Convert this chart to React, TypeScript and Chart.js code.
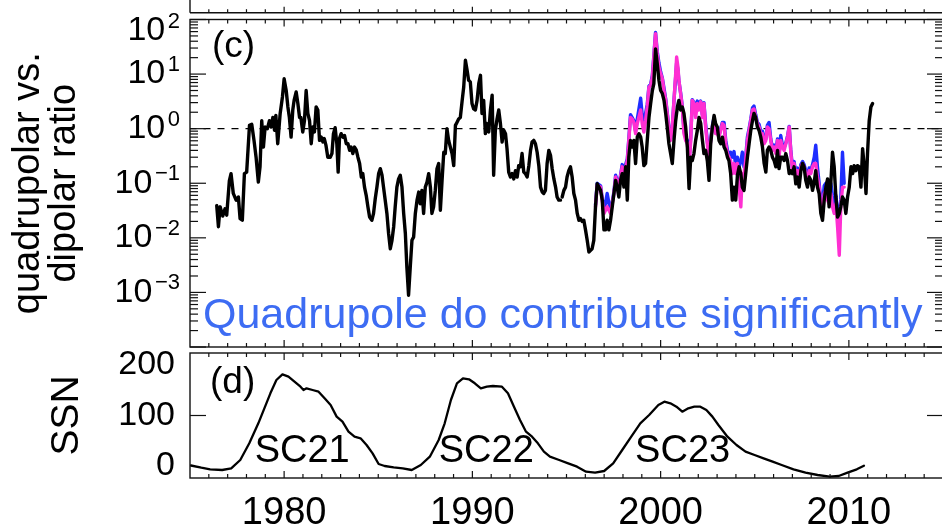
import React, { useEffect, useRef } from "react";
import { Chart, registerables } from "chart.js";

Chart.register(...registerables);

const FONT = "'Liberation Sans', Arial, Helvetica, sans-serif";
const INK = "#111111";
const TEXT_BLUE = "#3d6cf3";

// ---------- data ----------
const xRange = [1975, 2015];
const xTickLabels = [1980, 1990, 2000, 2010];
const ratioExponents = [2, 1, 0, -1, -2, -3];
const ssnTickLabels = [0, 100, 200];
const cycleLabels = ["SC21", "SC22", "SC23"];
const cycleLabelYears = [1980.96, 1990.74, 2001.17];
const ratioTitle = ["quadrupolar vs.", "dipolar ratio"];
const ssnTitle = "SSN";
const noteText = "Quadrupole do contribute significantly";
const refLineYears = [1975, 2015];
const refLineRatio = [1, 1];

// black: quadrupolar / dipolar ratio, cycles 21-22
const blackEarly: [number, number][] = [
  [1976.42,0.039],[1976.51,0.016],[1976.60,0.037],[1976.74,0.025],[1976.86,0.034],[1976.95,0.026],[1977.09,0.11],[1977.18,0.15],[1977.30,0.065],[1977.45,0.049],
  [1977.57,0.056],[1977.66,0.0225],[1977.78,0.021],[1977.89,0.15],[1978.01,0.16],[1978.16,1.15],[1978.28,1.2],[1978.40,0.61],[1978.51,0.30],[1978.63,0.105],
  [1978.72,0.20],[1978.81,1.4],[1978.90,0.46],[1978.99,1.07],[1979.11,1.0],[1979.22,1.4],[1979.31,1.07],[1979.40,1.6],[1979.49,0.93],[1979.56,1.75],
  [1979.66,0.53],[1979.79,1.9],[1979.91,3.8],[1980.00,8.2],[1980.11,5.0],[1980.20,2.5],[1980.28,1.6],[1980.37,0.70],[1980.46,2.2],[1980.53,3.3],
  [1980.64,4.7],[1980.73,2.9],[1980.82,1.6],[1980.89,1.6],[1980.99,0.87],[1981.08,1.4],[1981.17,5.0],[1981.26,1.9],[1981.35,1.4],[1981.44,0.53],
  [1981.52,1.07],[1981.61,0.87],[1981.70,2.5],[1981.79,2.2],[1981.88,0.61],[1981.97,0.70],[1982.06,0.57],[1982.13,0.66],[1982.22,0.50],[1982.32,0.30],
  [1982.45,0.30],[1982.54,0.35],[1982.62,0.81],[1982.71,1.04],[1982.80,0.53],[1982.87,0.16],[1982.94,0.66],[1983.03,0.81],[1983.12,0.70],[1983.21,0.75],
  [1983.30,0.53],[1983.39,0.53],[1983.48,0.40],[1983.56,0.46],[1983.65,0.35],[1983.74,0.46],[1983.83,0.41],[1983.92,0.30],[1984.01,0.23],[1984.10,0.13],
  [1984.18,0.15],[1984.27,0.085],[1984.36,0.060],[1984.45,0.037],[1984.54,0.024],[1984.66,0.021],[1984.75,0.028],[1984.84,0.052],[1984.93,0.085],[1985.02,0.15],
  [1985.11,0.185],[1985.20,0.14],[1985.28,0.085],[1985.37,0.049],[1985.46,0.028],[1985.55,0.012],[1985.64,0.0063],[1985.73,0.009],[1985.82,0.016],[1985.90,0.037],
  [1985.99,0.085],[1986.08,0.12],[1986.17,0.14],[1986.26,0.085],[1986.35,0.028],[1986.44,0.012],[1986.52,0.0029],[1986.61,0.00089],[1986.70,0.0029],[1986.79,0.009],
  [1986.88,0.0104],[1986.97,0.028],[1987.06,0.049],[1987.15,0.069],[1987.23,0.042],[1987.32,0.074],[1987.41,0.028],[1987.50,0.085],[1987.59,0.105],[1987.68,0.15],
  [1987.77,0.085],[1987.85,0.028],[1987.94,0.037],[1988.03,0.074],[1988.12,0.185],[1988.21,0.23],[1988.30,0.032],[1988.39,0.113],[1988.48,0.37],[1988.56,0.35],
  [1988.65,1.0],[1988.74,0.61],[1988.83,0.46],[1988.92,0.35],[1989.01,0.21],[1989.10,1.15],[1989.18,1.3],[1989.27,1.5],[1989.36,1.6],[1989.45,3.1],
  [1989.54,5.8],[1989.63,17.9],[1989.72,11.7],[1989.80,7.7],[1989.89,7.2],[1989.98,2.9],[1990.07,2.3],[1990.16,2.2],[1990.25,3.3],[1990.34,6.7],
  [1990.43,9.5],[1990.51,1.9],[1990.60,3.3],[1990.69,0.81],[1990.78,1.24],[1990.87,0.87],[1990.96,2.2],[1991.05,4.1],[1991.13,0.14],[1991.22,0.93],
  [1991.31,1.5],[1991.40,2.2],[1991.49,1.24],[1991.58,0.57],[1991.67,0.93],[1991.76,0.81],[1991.84,0.43],[1991.93,0.16],[1992.02,0.13],[1992.11,0.15],
  [1992.20,0.12],[1992.29,0.17],[1992.38,0.13],[1992.46,0.21],[1992.55,0.20],[1992.64,0.35],[1992.73,0.16],[1992.82,0.15],[1992.91,0.13],[1993.00,0.21],
  [1993.09,0.40],[1993.17,0.57],[1993.26,0.61],[1993.35,0.53],[1993.44,0.37],[1993.53,0.21],[1993.62,0.085],[1993.71,0.069],[1993.79,0.065],[1993.88,0.074],
  [1993.97,0.23],[1994.06,0.40],[1994.15,0.325],[1994.24,0.185],[1994.33,0.12],[1994.42,0.085],[1994.50,0.056],[1994.59,0.049],[1994.68,0.049],
];

// black: cycle 23 onward
const blackLate: [number, number][] = [
  [1994.77,0.056],[1994.86,0.074],[1994.95,0.085],[1995.03,0.13],[1995.12,0.17],[1995.21,0.20],[1995.30,0.13],[1995.39,0.065],[1995.48,0.049],[1995.57,0.028],
  [1995.66,0.021],[1995.74,0.0225],[1995.83,0.020],[1995.92,0.021],[1996.01,0.014],[1996.10,0.009],[1996.19,0.0055],[1996.28,0.0059],[1996.36,0.0063],[1996.45,0.009],
  [1996.54,0.037],[1996.63,0.098],[1996.72,0.085],[1996.81,0.074],[1996.90,0.049],[1996.99,0.014],[1997.07,0.014],[1997.16,0.021],[1997.25,0.014],[1997.34,0.021],
  [1997.43,0.037],[1997.52,0.065],[1997.61,0.113],[1997.69,0.085],[1997.78,0.056],[1997.87,0.113],[1997.96,0.15],[1998.05,0.085],[1998.14,0.20],[1998.23,0.049],
  [1998.31,0.30],[1998.40,0.61],[1998.49,0.46],[1998.58,0.61],[1998.67,0.23],[1998.76,0.70],[1998.85,0.81],[1998.94,0.70],[1999.02,0.46],[1999.11,0.21],
  [1999.20,0.23],[1999.29,0.61],[1999.38,1.6],[1999.47,2.9],[1999.56,5.0],[1999.64,6.7],[1999.73,29],[1999.82,15.5],[1999.91,7.7],[2000.00,5.0],
  [2000.09,4.4],[2000.18,3.3],[2000.27,1.9],[2000.35,1.07],[2000.44,0.53],[2000.53,0.35],[2000.62,0.23],[2000.71,0.61],[2000.80,1.4],[2000.89,2.5],
  [2000.97,3.3],[2001.06,2.2],[2001.15,2.5],[2001.24,1.9],[2001.33,1.07],[2001.42,0.46],[2001.51,0.080],[2001.60,0.30],[2001.68,0.26],[2001.77,0.35],
  [2001.86,0.61],[2001.95,0.93],[2002.04,1.6],[2002.13,1.24],[2002.22,0.61],[2002.30,0.35],[2002.39,0.40],[2002.48,0.26],[2002.57,0.113],[2002.66,0.53],
  [2002.75,1.07],[2002.84,1.75],[2002.92,1.24],[2003.01,1.07],[2003.10,0.61],[2003.19,0.53],[2003.28,0.70],[2003.37,0.46],[2003.46,0.40],[2003.55,0.30],
  [2003.63,0.26],[2003.72,0.15],[2003.81,0.049],[2003.90,0.085],[2003.99,0.049],[2004.08,0.14],[2004.17,0.20],[2004.26,0.15],[2004.34,0.085],[2004.43,0.074],
  [2004.52,0.15],[2004.61,0.30],[2004.70,0.53],[2004.79,0.93],[2004.88,1.4],[2004.96,1.9],[2005.05,1.6],[2005.14,1.07],[2005.23,0.93],[2005.32,0.70],
  [2005.41,0.46],[2005.50,0.23],[2005.59,0.16],[2005.67,0.40],[2005.76,0.46],[2005.85,0.40],[2005.94,0.30],[2006.03,0.26],[2006.12,0.20],[2006.21,0.40],
  [2006.29,0.185],[2006.38,0.30],[2006.47,0.30],[2006.56,0.26],[2006.65,0.35],[2006.74,0.26],[2006.83,0.15],[2006.91,0.17],[2007.00,0.15],[2007.09,0.20],
  [2007.18,0.098],[2007.27,0.13],[2007.36,0.085],[2007.45,0.17],[2007.54,0.23],[2007.62,0.20],[2007.71,0.113],[2007.80,0.085],[2007.89,0.13],[2007.98,0.113],
  [2008.07,0.074],[2008.16,0.105],[2008.24,0.17],[2008.33,0.085],[2008.42,0.065],[2008.51,0.028],[2008.60,0.021],[2008.69,0.049],[2008.78,0.085],[2008.87,0.12],
  [2008.95,0.037],[2009.04,0.098],[2009.13,0.37],[2009.22,0.20],[2009.31,0.056],[2009.40,0.024],[2009.49,0.028],[2009.57,0.037],[2009.66,0.056],[2009.75,0.049],
  [2009.84,0.028],[2009.93,0.056],[2010.02,0.085],[2010.11,0.20],[2010.20,0.15],[2010.28,0.21],[2010.37,0.17],[2010.46,0.21],[2010.55,0.20],[2010.64,0.085],
  [2010.73,0.43],[2010.82,0.20],[2010.91,0.065],[2010.99,0.35],[2011.08,1.4],[2011.17,2.5],[2011.26,2.9],
];

// magenta series
const magentaRatio: [number, number][] = [
  [1996.54,0.037],[1996.63,0.092],[1996.81,0.085],[1996.99,0.028],[1997.16,0.037],[1997.34,0.028],[1997.52,0.065],[1997.61,0.13],[1997.78,0.085],[1997.96,0.20],
  [1998.05,0.15],[1998.23,0.26],[1998.31,0.61],[1998.40,1.6],[1998.49,1.5],[1998.58,1.3],[1998.67,0.81],[1998.76,1.24],[1998.94,2.2],[1999.02,1.24],
  [1999.11,0.87],[1999.20,1.4],[1999.29,2.5],[1999.38,5.8],[1999.47,6.2],[1999.56,8.8],[1999.64,20.5],[1999.73,55],[1999.82,23.6],[1999.91,13.5],
  [2000.00,10.2],[2000.09,8.2],[2000.18,5.0],[2000.27,3.3],[2000.35,1.9],[2000.44,0.93],[2000.53,0.61],[2000.62,1.07],[2000.71,3.3],[2000.80,10.2],
  [2000.85,20.5],[2000.92,13.5],[2000.97,7.7],[2001.06,4.4],[2001.15,2.5],[2001.24,0.81],[2001.33,0.61],[2001.42,0.53],[2001.51,0.20],[2001.60,0.61],
  [2001.68,3.3],[2001.77,2.9],[2001.86,1.6],[2001.95,2.9],[2002.04,2.2],[2002.13,3.1],[2002.22,1.6],[2002.30,2.9],[2002.39,1.07],[2002.48,0.53],
  [2002.57,0.26],[2002.66,0.61],[2002.75,1.07],[2002.84,1.4],[2002.92,0.81],[2003.01,0.81],[2003.10,0.70],[2003.19,0.93],[2003.28,1.24],[2003.37,1.15],
  [2003.46,0.53],[2003.55,0.35],[2003.63,0.30],[2003.72,0.26],[2003.81,0.15],[2003.90,0.23],[2003.99,0.15],[2004.08,0.23],[2004.17,0.085],[2004.26,0.037],
  [2004.34,0.15],[2004.43,0.15],[2004.52,0.26],[2004.61,0.61],[2004.70,0.93],[2004.79,1.4],[2004.88,2.2],[2004.96,2.3],[2005.05,1.6],[2005.14,1.24],
  [2005.23,1.07],[2005.32,0.81],[2005.41,0.81],[2005.50,0.53],[2005.59,0.61],[2005.67,1.07],[2005.76,1.0],[2005.85,0.61],[2005.94,0.40],[2006.03,0.46],
  [2006.12,0.35],[2006.21,0.61],[2006.29,0.30],[2006.38,0.61],[2006.47,0.46],[2006.56,0.40],[2006.65,0.53],[2006.74,0.70],[2006.83,1.07],[2006.91,0.40],
  [2007.00,0.17],[2007.09,0.23],[2007.18,0.13],[2007.27,0.17],[2007.36,0.113],[2007.45,0.20],[2007.54,0.23],[2007.62,0.20],[2007.71,0.15],[2007.80,0.113],
  [2007.89,0.17],[2007.98,0.15],[2008.07,0.20],[2008.16,0.23],[2008.24,0.23],[2008.33,0.13],[2008.42,0.085],[2008.51,0.037],[2008.60,0.028],[2008.69,0.065],
  [2008.78,0.074],[2008.87,0.049],[2008.95,0.042],[2009.04,0.065],[2009.13,0.037],[2009.22,0.028],[2009.31,0.042],[2009.40,0.0158],[2009.49,0.0048],[2009.57,0.037],
  [2009.66,0.085],[2009.75,0.085],
];

// blue series
const blueRatio: [number, number][] = [
  [1996.54,0.040],[1996.63,0.10],[1996.81,0.09],[1996.99,0.03],[1997.16,0.065],[1997.34,0.03],[1997.52,0.07],[1997.61,0.14],[1997.78,0.09],[1997.96,0.22],
  [1998.05,0.17],[1998.23,0.28],[1998.31,0.65],[1998.40,1.8],[1998.49,1.6],[1998.58,1.4],[1998.67,0.9],[1998.76,1.5],[1998.94,3.6],[1999.02,1.8],
  [1999.11,1.3],[1999.20,1.9],[1999.29,2.8],[1999.38,6.0],[1999.47,6.5],[1999.56,9.5],[1999.64,22],[1999.73,58],[1999.82,26],[1999.91,16],
  [2000.00,11],[2000.09,8.5],[2000.18,5.5],[2000.27,3.5],[2000.35,2.0],[2000.44,1.0],[2000.53,0.65],[2000.62,1.1],[2000.71,3.3],[2000.80,9],
  [2000.85,16],[2000.92,12],[2000.97,7.5],[2001.06,4.6],[2001.15,2.6],[2001.24,0.9],[2001.33,0.7],[2001.42,0.6],[2001.51,0.25],[2001.60,0.7],
  [2001.68,3.4],[2001.77,3.0],[2001.86,2.5],[2001.95,3.2],[2002.04,2.5],[2002.13,3.2],[2002.22,1.8],[2002.30,3.0],[2002.39,1.2],[2002.48,0.6],
  [2002.57,0.3],[2002.66,0.65],[2002.75,1.15],[2002.84,1.6],[2002.92,0.9],[2003.01,0.9],[2003.10,0.75],[2003.19,1.0],[2003.28,1.3],[2003.37,1.3],
  [2003.46,0.6],[2003.55,0.4],[2003.63,0.33],[2003.72,0.37],[2003.81,0.3],[2003.90,0.38],[2003.99,0.2],[2004.08,0.3],[2004.17,0.2],[2004.26,0.25],
  [2004.34,0.37],[2004.43,0.2],[2004.52,0.3],[2004.61,0.7],[2004.70,1.0],[2004.79,1.5],[2004.88,2.4],[2004.96,2.6],[2005.05,1.8],[2005.14,1.3],
  [2005.23,1.2],[2005.32,0.9],[2005.41,0.9],[2005.50,0.6],[2005.59,0.65],[2005.67,1.15],[2005.76,1.3],[2005.85,0.65],[2005.94,0.45],[2006.03,0.5],
  [2006.12,0.4],[2006.21,0.65],[2006.29,0.33],[2006.38,0.75],[2006.47,0.5],[2006.56,0.45],[2006.65,0.55],[2006.74,0.72],[2006.83,1.1],[2006.91,0.42],
  [2007.00,0.2],[2007.09,0.25],[2007.18,0.15],[2007.27,0.19],[2007.36,0.13],[2007.45,0.22],[2007.54,0.25],[2007.62,0.22],[2007.71,0.17],[2007.80,0.13],
  [2007.89,0.19],[2007.98,0.17],[2008.07,0.22],[2008.16,0.3],[2008.24,0.5],[2008.33,0.2],[2008.42,0.1],[2008.51,0.05],[2008.60,0.04],[2008.69,0.09],
  [2008.78,0.1],[2008.87,0.08],[2008.95,0.06],[2009.04,0.1],[2009.13,0.06],[2009.22,0.04],[2009.31,0.06],[2009.40,0.03],[2009.49,0.024],[2009.57,0.05],
  [2009.66,0.37],[2009.75,0.1],
];

// sunspot number
const ssnSeries: [number, number][] = [
  [1975.05,20],[1975.60,16.5],[1976.07,13.9],[1976.71,12.8],[1977.19,15.5],[1977.67,28.8],[1978.15,55.5],[1978.63,87.5],[1978.95,111.5],[1979.27,135.5],
  [1979.59,156.8],[1979.91,165.9],[1980.23,162.1],[1980.55,154.1],[1980.87,146.1],[1981.03,140.8],[1981.19,143.5],[1981.51,140.8],[1981.83,138.1],[1982.15,127.5],
  [1982.47,116.8],[1982.79,98.2],[1983.10,90.1],[1983.42,74.1],[1983.74,66.1],[1984.06,63.5],[1984.38,52.8],[1984.70,39.5],[1985.02,22.4],[1985.34,19.2],
  [1985.82,17.1],[1986.30,15.5],[1986.78,12.8],[1987.26,20.8],[1987.74,34.1],[1988.21,60.8],[1988.53,87.5],[1988.86,124.8],[1989.18,151.5],[1989.50,159.5],
  [1989.82,157.9],[1990.13,151.5],[1990.45,143.5],[1990.77,146.1],[1991.09,147.2],[1991.57,146.1],[1991.89,135.5],[1992.21,114.1],[1992.53,92.8],[1992.85,74.1],
  [1993.17,66.1],[1993.48,55.5],[1993.80,42.1],[1994.12,34.1],[1994.61,28.8],[1995.09,23.5],[1995.56,18.1],[1996.04,10.1],[1996.52,8.5],[1997.00,11.2],
  [1997.48,23.5],[1997.96,44.8],[1998.44,66.1],[1998.92,87.5],[1999.39,100.8],[1999.88,116.8],[2000.20,122.1],[2000.52,119.5],[2000.84,114.1],[2001.15,106.1],
  [2001.47,111.5],[2001.79,114.1],[2002.11,114.1],[2002.43,108.8],[2002.75,98.2],[2003.07,84.8],[2003.55,66.1],[2004.03,52.8],[2004.51,42.1],[2004.99,36.8],
  [2005.47,31.5],[2005.95,26.1],[2006.43,20.8],[2007.06,13.9],[2007.70,8.5],[2008.34,4.8],[2008.98,2.1],[2009.46,3.2],[2009.93,8.5],[2010.42,13.9],
  [2010.80,19.7],
];

// ---------- helpers ----------
const toXY = (pairs: [number, number][]) => pairs.map(([x, y]) => ({ x, y }));

function seg(ctx: CanvasRenderingContext2D, x1: number, y1: number, x2: number, y2: number) {
  ctx.beginPath();
  ctx.moveTo(x1, y1);
  ctx.lineTo(x2, y2);
  ctx.stroke();
}

function drawYearTicks(ctx: CanvasRenderingContext2D, chart: any) {
  const a = chart.chartArea;
  const xs = chart.scales.x;
  for (let yr = Math.ceil(xs.min); yr <= xs.max; yr++) {
    const px = xs.getPixelForValue(yr);
    if (px <= a.left + 1 || px >= a.right - 1) continue;
    const len = yr % 10 === 0 ? 7 : 4;
    seg(ctx, px, a.bottom, px, a.bottom - len);
    seg(ctx, px, a.top, px, a.top + len);
  }
}

const ratioPanelPlugin = {
  id: "ratioPanel",
  afterDraw(chart: any) {
    const ctx: CanvasRenderingContext2D = chart.ctx;
    const a = chart.chartArea;
    const xs = chart.scales.x;
    const ys = chart.scales.y;
    ctx.save();
    ctx.strokeStyle = INK;
    ctx.lineWidth = 1.4;
    ctx.strokeRect(a.left, a.top, a.right - a.left, a.bottom - a.top);
    ctx.lineWidth = 1.2;
    drawYearTicks(ctx, chart);
    // log ticks (left and right, inward)
    for (let e = -4; e <= 2; e++) {
      for (let k = 1; k <= 9; k++) {
        const v = k * Math.pow(10, e);
        if (v > ys.max * 1.0001) break;
        const py = ys.getPixelForValue(v);
        const len = k === 1 ? 16 : 8;
        seg(ctx, a.left, py, a.left + len, py);
        seg(ctx, a.right, py, a.right - len, py);
      }
    }
    // bottom edge of the panel above (cropped)
    const yb = 12.7;
    ctx.lineWidth = 1.4;
    seg(ctx, a.left, yb, a.right, yb);
    seg(ctx, a.left, 0, a.left, yb);
    ctx.lineWidth = 1.2;
    for (let yr = Math.ceil(xs.min); yr <= xs.max; yr++) {
      const px = xs.getPixelForValue(yr);
      if (px <= a.left + 1 || px >= a.right - 1) continue;
      const len = yr % 10 === 0 ? 6 : 3.5;
      seg(ctx, px, yb, px, yb - len);
    }
    // tick labels 10^n
    ctx.fillStyle = "#000";
    ctx.textBaseline = "middle";
    ctx.textAlign = "right";
    for (const e of ratioExponents) {
      let py = ys.getPixelForValue(Math.pow(10, e));
      py = Math.max(py, a.top + 11.5);
      const sup = (e < 0 ? "\u2212" : "") + Math.abs(e);
      ctx.font = `22px ${FONT}`;
      const supW = ctx.measureText(sup).width;
      ctx.fillText(sup, 180, py - 9);
      ctx.font = `34px ${FONT}`;
      ctx.fillText("10", 180 - supW - 2.5, py);
    }
    // panel letter and note
    ctx.textAlign = "left";
    ctx.font = `37px ${FONT}`;
    ctx.fillText("(c)", a.left + 22, a.top + 27);
    ctx.textBaseline = "alphabetic";
    ctx.fillStyle = TEXT_BLUE;
    ctx.font = `43px ${FONT}`;
    ctx.fillText(noteText, a.left + 13, a.bottom - 19);
    ctx.restore();
  },
};

const ssnPanelPlugin = {
  id: "ssnPanel",
  afterDraw(chart: any) {
    const ctx: CanvasRenderingContext2D = chart.ctx;
    const a = chart.chartArea;
    const xs = chart.scales.x;
    const ys = chart.scales.y;
    ctx.save();
    ctx.strokeStyle = INK;
    ctx.lineWidth = 1.4;
    ctx.strokeRect(a.left, a.top, a.right - a.left, a.bottom - a.top);
    ctx.lineWidth = 1.2;
    drawYearTicks(ctx, chart);
    const p100 = ys.getPixelForValue(100);
    seg(ctx, a.left, p100, a.left + 16, p100);
    seg(ctx, a.right, p100, a.right - 16, p100);
    ctx.fillStyle = "#000";
    ctx.textBaseline = "middle";
    ctx.textAlign = "right";
    ctx.font = `34px ${FONT}`;
    for (const v of ssnTickLabels) {
      let py = ys.getPixelForValue(v);
      py = Math.min(Math.max(py, a.top + 12), a.bottom - 12);
      ctx.fillText(String(v), 175, py);
    }
    ctx.textAlign = "left";
    ctx.font = `37px ${FONT}`;
    ctx.fillText("(d)", a.left + 20, a.top + 30);
    ctx.textAlign = "center";
    ctx.font = `38px ${FONT}`;
    cycleLabels.forEach((t, i) => {
      ctx.fillText(t, xs.getPixelForValue(cycleLabelYears[i]), ys.getPixelForValue(43));
    });
    ctx.restore();
  },
};

const lineStyle = {
  pointRadius: 0,
  tension: 0,
  borderJoinStyle: "round" as const,
  borderCapStyle: "round" as const,
  fill: false,
};

export default function App() {
  const topRef = useRef<HTMLCanvasElement>(null);
  const botRef = useRef<HTMLCanvasElement>(null);

  useEffect(() => {
    const top = new Chart(topRef.current!, {
      type: "line",
      data: {
        datasets: [
          { ...lineStyle, data: toXY(blackEarly), borderColor: "#000", borderWidth: 3.4 },
          { ...lineStyle, data: toXY(blackLate), borderColor: "#000", borderWidth: 3.4 },
          { ...lineStyle, data: toXY(magentaRatio), borderColor: "#ff2fd2", borderWidth: 3.4 },
          { ...lineStyle, data: toXY(blueRatio), borderColor: "#1e2dff", borderWidth: 3.4 },
          {
            ...lineStyle,
            data: refLineYears.map((x, i) => ({ x, y: refLineRatio[i] })),
            borderColor: "#000",
            borderWidth: 1.3,
            borderDash: [6, 8],
          },
        ],
      },
      options: {
        animation: false,
        responsive: false,
        devicePixelRatio: 1,
        layout: { padding: { left: 0, right: 0, top: 19.5, bottom: 3 } },
        plugins: { legend: { display: false }, tooltip: { enabled: false } },
        scales: {
          x: { type: "linear", min: xRange[0], max: xRange[1], display: false },
          y: {
            type: "logarithmic",
            min: 1e-4,
            max: 100,
            grid: { display: false },
            border: { display: false },
            ticks: { display: false },
            title: {
              display: true,
              text: ratioTitle,
              color: "#000",
              font: { family: FONT, size: 38, lineHeight: 0.95 },
              padding: { top: 10, bottom: 0 },
            },
            afterFit: (s: any) => {
              s.width = 190;
            },
          },
        },
      },
      plugins: [ratioPanelPlugin],
    } as any);

    const bot = new Chart(botRef.current!, {
      type: "line",
      data: {
        datasets: [{ ...lineStyle, data: toXY(ssnSeries), borderColor: "#000", borderWidth: 2.3 }],
      },
      options: {
        animation: false,
        responsive: false,
        devicePixelRatio: 1,
        layout: { padding: { left: 0, right: 0, top: 5, bottom: 0 } },
        plugins: { legend: { display: false }, tooltip: { enabled: false } },
        scales: {
          x: {
            type: "linear",
            min: xRange[0],
            max: xRange[1],
            grid: { display: false, drawTicks: false },
            border: { display: false },
            ticks: {
              color: "#000",
              font: { family: FONT, size: 38 },
              padding: 13,
              autoSkip: false,
              maxRotation: 0,
              callback: (v: any) => String(v),
            },
            afterBuildTicks: (s: any) => {
              s.ticks = xTickLabels.map((v) => ({ value: v }));
            },
            afterFit: (s: any) => {
              s.height = 53;
            },
          },
          y: {
            type: "linear",
            min: 0,
            max: 200,
            grid: { display: false },
            border: { display: false },
            ticks: { display: false },
            title: {
              display: true,
              text: ssnTitle,
              color: "#000",
              font: { family: FONT, size: 39, lineHeight: 1 },
              padding: { top: 48, bottom: 0 },
            },
            afterFit: (s: any) => {
              s.width = 190;
            },
          },
        },
      },
      plugins: [ssnPanelPlugin],
    } as any);

    return () => {
      top.destroy();
      bot.destroy();
    };
  }, []);

  return (
    <div
      style={{
        position: "fixed",
        left: 0,
        top: 0,
        width: 942,
        height: 531,
        overflow: "hidden",
        background: "#fff",
      }}
    >
      <canvas
        ref={topRef}
        width={943}
        height={350}
        style={{ position: "absolute", left: 0, top: 0, width: 943, height: 350 }}
      />
      <canvas
        ref={botRef}
        width={943}
        height={183}
        style={{ position: "absolute", left: 0, top: 348, width: 943, height: 183 }}
      />
    </div>
  );
}
